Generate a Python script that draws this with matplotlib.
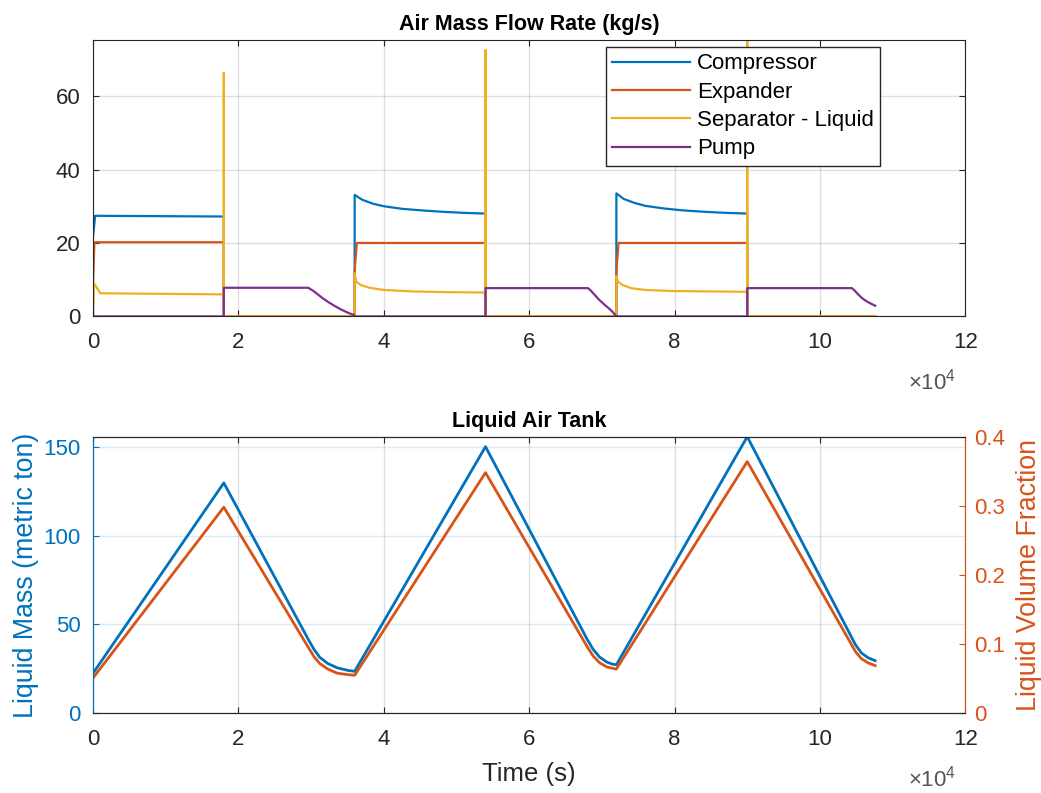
"""Air mass flow rate and liquid air tank level over three charge/discharge cycles."""
import matplotlib
matplotlib.use("Agg")
import matplotlib.pyplot as plt
from matplotlib.ticker import FuncFormatter

plt.rcParams['font.family'] = ['Liberation Sans', 'DejaVu Sans']
plt.rcParams['mathtext.default'] = 'regular'

# --- flow rates (kg/s), time in s ---
comp_t = [0, 0, 300, 18000, 18000, 36000, 36000, 37000, 38500, 40000, 42500, 45000, 48000, 51000, 54000, 54000,
          72000, 72000, 73000, 74500, 76000, 78500, 81000, 84000, 87000, 90000, 90000, 107600]
comp_v = [0, 21.5, 27.4, 27.2, 0, 0, 33.1, 31.8, 30.7, 30.0, 29.3, 28.9, 28.5, 28.2, 28.0, 0,
          0, 33.5, 32.0, 30.9, 30.1, 29.4, 28.9, 28.5, 28.2, 28.0, 0, 0]

exp_t = [0, 0, 200, 18000, 18000, 36000, 36000, 36300, 54000, 54000, 72000, 72000, 72300, 90000, 90000, 107600]
exp_v = [0, 9, 20.2, 20.2, 0, 0, 12.5, 20.0, 20.0, 0, 0, 12.5, 20.0, 20.0, 0, 0]

sep_t = [0, 150, 1000, 18000, 18000, 18000,
         36000, 36000, 36200, 36800, 38000, 40000, 44000, 49000, 54000, 54000, 54000,
         72000, 72000, 72200, 72800, 74000, 76000, 80000, 85000, 90000, 90000, 90000, 107600]
sep_v = [0, 9.0, 6.3, 6.0, 66.3, 0,
         0, 11.8, 9.5, 8.6, 7.8, 7.2, 6.8, 6.6, 6.5, 72.5, 0,
         0, 11.0, 9.5, 8.6, 7.7, 7.2, 6.9, 6.8, 6.7, 80.0, 0, 0]

pump_t = [0, 18000, 18000, 29600, 30200, 30800, 31500, 32300, 33200, 34200, 35200, 35900, 36000,
          54000, 54000, 68100, 68500, 69000, 69600, 70300, 70900, 71400, 72000,
          90000, 90000, 104400, 104800, 105300, 105900, 106600, 107600]
pump_v = [0, 0, 7.8, 7.8, 7.1, 6.2, 5.1, 4.0, 2.9, 1.8, 0.9, 0.4, 0,
          0, 7.7, 7.7, 7.0, 5.9, 4.6, 3.3, 2.3, 1.4, 0,
          0, 7.7, 7.7, 7.0, 5.9, 4.8, 3.9, 2.9]

# --- liquid air tank ---
tank_t = [0, 18000, 29700, 30400, 31200, 32300, 33600, 35000, 36000,
          54000, 68000, 68800, 69700, 70700, 71500, 72000,
          90000, 104200, 104900, 105700, 106600, 107600]
mass = [22.5, 129.6, 41.0, 36.0, 31.5, 28.0, 25.6, 24.2, 23.6,
        150.0, 41.5, 36.0, 31.6, 28.8, 27.6, 27.3,
        155.6, 44.0, 38.5, 34.0, 31.3, 29.6]
frac = [0.051, 0.298, 0.094, 0.082, 0.072, 0.064, 0.058, 0.056, 0.055,
        0.348, 0.096, 0.083, 0.073, 0.067, 0.065, 0.064,
        0.364, 0.102, 0.089, 0.079, 0.073, 0.069]

BLUE, ORANGE, YELLOW, PURPLE = '#0072BD', '#D95319', '#EDB120', '#7E2F8E'
DARK = '#262626'

fig = plt.figure(figsize=(10.41, 7.93), dpi=100)
ax1 = fig.add_axes([0.0893, 0.601, 0.838, 0.3487])
ax2 = fig.add_axes([0.0893, 0.1005, 0.838, 0.3488])
ax3 = ax2.twinx()

xfmt = FuncFormatter(lambda v, p: f'{v / 1e4:g}')

# top: flow rates
ax1.plot(comp_t, comp_v, color=BLUE, lw=1.6, label='Compressor')
ax1.plot(exp_t, exp_v, color=ORANGE, lw=1.6, label='Expander')
ax1.plot(sep_t, sep_v, color=YELLOW, lw=1.6, label='Separator - Liquid')
ax1.plot(pump_t, pump_v, color=PURPLE, lw=1.6, label='Pump')
ax1.set_xlim(0, 120000)
ax1.set_ylim(0, 75.3)
ax1.set_xticks(range(0, 120001, 20000))
ax1.set_yticks([0, 20, 40, 60])
ax1.xaxis.set_major_formatter(xfmt)
ax1.set_title('Air Mass Flow Rate (kg/s)', fontsize=15.5, fontweight='bold', pad=7)
ax1.grid(True, color=DARK, alpha=0.15, lw=1)
ax1.tick_params(axis='x', direction='in', top=True, labelsize=16, colors=DARK, length=4, pad=11)
ax1.tick_params(axis='y', direction='in', right=True, labelsize=16, colors=DARK, length=4, pad=9)
for s in ax1.spines.values():
    s.set_color(DARK)
leg = ax1.legend(loc='upper right', bbox_to_anchor=(0.9025, 0.975), fancybox=False, edgecolor=DARK,
                 framealpha=1, fontsize=16, handlelength=3.5, borderpad=0.3, labelspacing=0.33,
                 handletextpad=0.3, borderaxespad=0)
leg.get_frame().set_linewidth(1.0)
ax1.text(0.989, -0.19, r'$\times10^{4}$', transform=ax1.transAxes, ha='right', va='top',
         fontsize=16, color='#555555')

# bottom: liquid air tank
ax2.plot(tank_t, mass, color=BLUE, lw=2.0)
ax3.plot(tank_t, frac, color=ORANGE, lw=2.0)
ax2.set_xlim(0, 120000)
ax2.set_ylim(0, 155.6)
ax3.set_ylim(0, 0.4)
ax2.set_xticks(range(0, 120001, 20000))
ax2.set_yticks([0, 50, 100, 150])
ax3.set_yticks([0, 0.1, 0.2, 0.3, 0.4])
ax3.yaxis.set_major_formatter(FuncFormatter(lambda v, p: f'{v:g}'))
ax2.xaxis.set_major_formatter(xfmt)
ax2.xaxis.grid(True, color=DARK, alpha=0.15, lw=1)
ax2.yaxis.grid(True, color=BLUE, alpha=0.15, lw=1)
ax2.set_title('Liquid Air Tank', fontsize=15.5, fontweight='bold', pad=7)
ax2.set_xlabel('Time (s)', fontsize=18.5, color=DARK, labelpad=9)
ax2.set_ylabel('Liquid Mass (metric ton)', fontsize=19.3, color=BLUE, labelpad=3)
ax3.set_ylabel('Liquid Volume Fraction', fontsize=19.3, color=ORANGE, labelpad=8)
ax2.tick_params(axis='x', direction='in', top=True, labelsize=16, colors=DARK, length=4, pad=11)
ax2.tick_params(axis='y', direction='in', labelsize=16, colors=BLUE, length=4, pad=9)
ax3.tick_params(axis='y', direction='in', labelsize=16, colors=ORANGE, length=4, pad=6)
for ax in (ax2, ax3):
    ax.spines['top'].set_color(DARK)
    ax.spines['bottom'].set_color(DARK)
    ax.spines['left'].set_color(BLUE)
    ax.spines['right'].set_color(ORANGE)
ax2.text(0.989, -0.19, r'$\times10^{4}$', transform=ax2.transAxes, ha='right', va='top',
         fontsize=16, color='#555555')

fig.savefig('out.png', dpi=100)
